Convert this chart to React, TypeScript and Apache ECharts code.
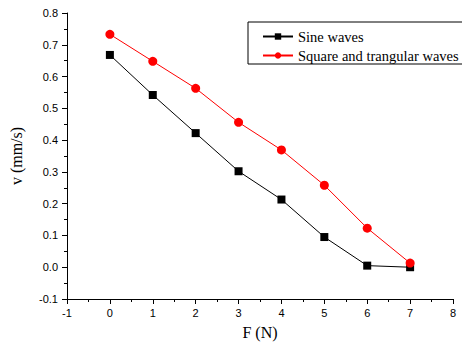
import React, { useEffect, useRef } from "react";
import * as echarts from "echarts";

const forces = [0, 1, 2, 3, 4, 5, 6, 7];
const sineValues = [0.668, 0.542, 0.422, 0.302, 0.213, 0.095, 0.005, 0.0];
const squareValues = [0.733, 0.648, 0.563, 0.456, 0.369, 0.258, 0.123, 0.013];
const seriesNames = ["Sine waves", "Square and trangular waves"];

export default function App() {
  const ref = useRef<HTMLDivElement>(null);
  useEffect(() => {
    if (!ref.current) return;
    document.body.style.margin = "0";
    document.body.style.overflow = "hidden";
    const chart = echarts.init(ref.current, undefined, { renderer: "svg" });
    const axisCommon = {
      axisLine: { show: true, onZero: false, lineStyle: { color: "#000", width: 1 } },
      axisTick: { show: true, inside: false, length: 5, lineStyle: { color: "#000" } },
      minorTick: { show: true, splitNumber: 2, length: 3, lineStyle: { color: "#000" } },
      splitLine: { show: false },
      axisLabel: { color: "#000", fontFamily: "Liberation Sans", fontSize: 11 },
    };
    chart.setOption({
      animation: false,
      backgroundColor: "#fff",
      grid: { left: 67, right: 9, top: 13, bottom: 43, outerBoundsMode: "none", containLabel: false },
      legend: {
        orient: "vertical",
        left: 248,
        top: 22,
        borderColor: "#000",
        borderWidth: 1,
        padding: [7, 16, 1, 14],
        itemGap: 4,
        itemWidth: 30,
        itemHeight: 8,
        textStyle: { fontFamily: "Liberation Serif", fontSize: 14.5, color: "#000" },
        data: seriesNames,
      },
      xAxis: {
        type: "value",
        min: -1,
        max: 8,
        interval: 1,
        name: "F (N)",
        nameLocation: "middle",
        nameGap: 25,
        nameTextStyle: { fontFamily: "Liberation Serif", fontSize: 16, color: "#000" },
        ...axisCommon,
        axisLabel: { ...axisCommon.axisLabel, margin: 8 },
      },
      yAxis: {
        type: "value",
        min: -0.1,
        max: 0.8,
        interval: 0.1,
        name: "v (mm/s)",
        nameLocation: "middle",
        nameGap: 43,
        nameTextStyle: { fontFamily: "Liberation Serif", fontSize: 16, color: "#000" },
        ...axisCommon,
        axisLabel: {
          ...axisCommon.axisLabel,
          margin: 9,
          formatter: (v: number) => v.toFixed(1),
        },
      },
      series: [
        {
          name: seriesNames[0],
          type: "line",
          data: forces.map((f, i) => [f, sineValues[i]]),
          symbol: "rect",
          symbolSize: 8,
          lineStyle: { color: "#000", width: 1 },
          itemStyle: { color: "#000" },
        },
        {
          name: seriesNames[1],
          type: "line",
          data: forces.map((f, i) => [f, squareValues[i]]),
          symbol: "circle",
          symbolSize: 9,
          lineStyle: { color: "#ff0000", width: 1 },
          itemStyle: { color: "#ff0000" },
        },
      ],
    });
    return () => chart.dispose();
  }, []);
  return (
    <div
      ref={ref}
      style={{ position: "fixed", left: 0, top: 0, width: 462, height: 342, overflow: "hidden" }}
    />
  );
}
